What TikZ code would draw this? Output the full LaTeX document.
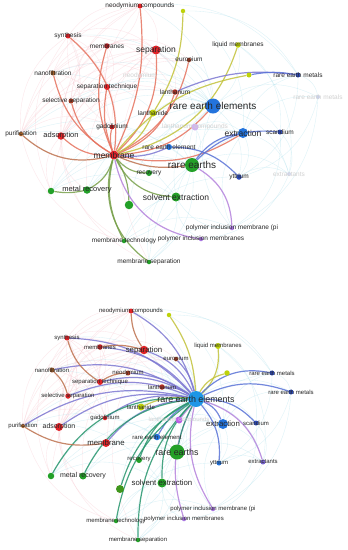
\documentclass[tikz,border=0pt]{standalone}
\usepackage{fontspec}
\setmainfont{Liberation Sans}
\pgfdeclarelayer{bgA}\pgfdeclarelayer{bgB}
\pgfsetlayers{bgA,bgB,main}
\definecolor{cred}{RGB}{225,35,40}
\definecolor{cbrn}{RGB}{165,60,35}
\definecolor{corg}{RGB}{165,95,40}
\definecolor{cgrn}{RGB}{35,160,40}
\definecolor{cblu}{RGB}{35,115,220}
\definecolor{ccyb}{RGB}{30,150,230}
\definecolor{cdbl}{RGB}{45,75,185}
\definecolor{cyel}{RGB}{190,210,10}
\definecolor{cpur}{RGB}{170,120,225}
\definecolor{ered}{RGB}{230,115,95}
\definecolor{ebrn}{RGB}{190,115,80}
\definecolor{egrn}{RGB}{120,160,75}
\definecolor{eblu}{RGB}{90,115,215}
\definecolor{evio}{RGB}{125,120,210}
\definecolor{eyel}{RGB}{195,195,60}
\definecolor{epur}{RGB}{180,130,220}
\definecolor{eteal}{RGB}{40,150,110}
\definecolor{fpink}{RGB}{248,190,200}
\definecolor{fcyan}{RGB}{165,222,235}
\tikzset{
  vn/.style={circle,inner sep=0pt,minimum size=#1},
  lb/.style={font=\fontsize{6.5}{7}\selectfont,text=black!85,inner sep=0pt},
  lbm/.style={font=\fontsize{7.5}{8}\selectfont,text=black!85,inner sep=0pt},
  lbl/.style={font=\fontsize{8.5}{9}\selectfont,text=black!85,inner sep=0pt},
  lbx/.style={font=\fontsize{10}{11}\selectfont,text=black!85,inner sep=0pt},
  lbf/.style={lb,text=black!18},
  blb/.style={font=\fontsize{6}{7}\selectfont,text=black!85,inner sep=0pt},
  blbm/.style={font=\fontsize{7}{8}\selectfont,text=black!85,inner sep=0pt},
  blbl/.style={font=\fontsize{7.8}{9}\selectfont,text=black!85,inner sep=0pt},
  blbx/.style={font=\fontsize{8.9}{10}\selectfont,text=black!85,inner sep=0pt},
  blbf/.style={blb,text=black!18},
  hl/.style={line width=1.2pt,opacity=0.85},
  fe/.style={line width=0.35pt,opacity=0.4},
}
\def\pinkpairs{Syn/Sep,Syn/ST,Syn/Ads,Syn/NC,Mbs/Sep,Mbs/ST,Mbs/Ads,Nano/Sep,Nano/Ads,Nano/Mbs,SS/Sep,SS/Mbs,Pur/Sep,Pur/ST,Ads/Sep,Ads/Mbs,Gd/Sep,NC/Sep,Sep/La,Neo/Sep,Syn/Mem,Nano/Gd,SS/Ads,Pur/Gd,NC/Mbs,Syn/SS,Eu/Sep,Neo/ST,Pur/NC,Pur/Syn,Nano/NC,Ads/NC,Pur/Mbs,SS/NC,Ads/La,Pur/La,Nano/La,Syn/La,Gd/NC,Gd/Syn,Ads/Eu,Pur/Eu,Mbs/Eu,MR/Sep,G1/Sep,G1/Ads,MR/Ads,G1/Syn,MT/Ads,MS/Sep,MT/Pur,MS/Ads}
\def\cyanpairs{NC/REE,Sep/REE,Sep/RES,ST/REE,Eu/REE,La/REE,Ln/REE,LM/REE,REE/REM2,REE/Exs,REE/Yt,REE/Sc,Ext/REM,Ext/REM2,Ext/Exs,Ext/Yt,RES/Exs,RES/REM,RES/REE,RES/MT,RES/MS,SX/Ext,SX/REE,SX/MS,PIM/REE,PIM/Ext,PIMs/SX,G1/RES,G1/REE,MR/REE,MR/RES,Rec/REE,G2/REE,MT/SX,MS/RES,Neo/REE,LC/RES,LC/Ext,Ads/REE,Ads/RES,SS/REE,Pur/REE,REM/REM2,Sc/Exs,Yt/Exs,PIM/SX,NC/REM,Y1/REM,Y1/Ext,LM/Exs,LM/Sc,REM/Yt,REM2/PIM,REM2/Yt,Sc/PIM,Exs/PIMs,MS/PIM,MT/PIM,G1/SX,G1/Ext,MR/Ext,MS/Ext,MT/Yt,Syn/REE,Nano/REE,Nano/RES,Pur/RES,Pur/SX}
\begin{document}
\begin{tikzpicture}[x=1pt,y=-1pt]
\useasboundingbox (0,0) rectangle (348,550);
% ---------------- top panel ----------------
\node[vn=5,fill=cred,label={[lb]center:neodymium compounds}] (tNC) at (140,6) {};
\node[vn=4.5,fill=cyel] (tY1) at (183,11) {};
\node[vn=5,fill=cred,label={[lb]center:synthesis}] (tSyn) at (68,36) {};
\node[vn=5.5,fill=cred!80!black,label={[lb]center:membranes}] (tMbs) at (107,46) {};
\node[vn=9,fill=cred,label={[lbl]center:separation}] (tSep) at (156,50) {};
\node[vn=5.5,fill=cyel,label={[lb]center:liquid membranes}] (tLM) at (238,45) {};
\node[vn=4.5,fill=cbrn,label={[lb]center:europium}] (tEu) at (189,60) {};
\node[vn=5,fill=corg,label={[lb]center:nanofiltration}] (tNano) at (53,73) {};
\node[vn=4,fill=cred!25,label={[lbf]center:neodymium}] (tNeo) at (140,76) {};
\node[vn=6,fill=cred,label={[lb]center:separation technique}] (tST) at (107,87) {};
\node[vn=5.5,fill=cbrn!60!cred,label={[lb]center:lanthanum}] (tLa) at (175,92) {};
\node[vn=5,fill=cyel] (tY2) at (249,75) {};
\node[vn=5,fill=cdbl,label={[lb]center:rare earth metals}] (tREM) at (298,75) {};
\node[vn=4,fill=cdbl!25,label={[lbf]center:rare earth metals}] (tREM2) at (318,97) {};
\node[vn=5,fill=cbrn,label={[lb]center:selective separation}] (tSS) at (71,101) {};
\node[vn=15,fill=cblu,label={[lbx]center:rare earth elements}] (tREE) at (213,106) {};
\node[vn=7,fill=cyel,label={[lb]center:lanthanide}] (tLn) at (153,113) {};
\node[vn=4.5,fill=corg,label={[lb]center:purification}] (tPur) at (21,134) {};
\node[vn=7.5,fill=cred,label={[lbm]center:adsorption}] (tAds) at (61,136) {};
\node[vn=5,fill=cred!85!black,label={[lb]center:gadolinium}] (tGd) at (112,127) {};
\node[vn=7,fill=cpur!55,label={[lbf]center:lanthanum compounds}] (tLC) at (195,127) {};
\node[vn=10,fill=cblu,label={[lbl]center:extraction}] (tExt) at (243,133) {};
\node[vn=5,fill=cdbl,label={[lb]center:scandium}] (tSc) at (280,132) {};
\node[vn=6,fill=cblu,label={[lb]center:rare earth element}] (tRE1) at (169,147) {};
\node[vn=9,fill=cred,label={[lbl]center:membrane}] (tMem) at (114,155) {};
\node[vn=14,fill=cgrn,label={[lbx]center:rare earths}] (tRES) at (192,165) {};
\node[vn=6,fill=cgrn,label={[lb]center:recovery}] (tRec) at (149,173) {};
\node[vn=5.5,fill=cdbl,label={[lb]center:yttrium}] (tYt) at (239,177) {};
\node[vn=4,fill=cdbl!20,label={[lbf]center:extractants}] (tExs) at (289,174) {};
\node[vn=7.5,fill=cgrn,label={[lbm]center:metal recovery}] (tMR) at (87,190) {};
\node[vn=6.5,fill=cgrn] (tG1) at (51,191) {};
\node[vn=9,fill=cgrn,label={[lbl]center:solvent extraction}] (tSX) at (176,197) {};
\node[vn=8.5,fill=cgrn] (tG2) at (129,205) {};
\node[vn=4.5,fill=cpur,label={[lb]center:polymer inclusion membrane (pi}] (tPIM) at (232,228) {};
\node[vn=4.5,fill=cpur,label={[lb]center:polymer inclusion membranes}] (tPIMs) at (201,239) {};
\node[vn=4.5,fill=cgrn,label={[lb]center:membrane technology}] (tMT) at (124,241) {};
\node[vn=4.5,fill=cgrn,label={[lb]center:membrane separation}] (tMS) at (149,262) {};
% ---------------- bottom panel ----------------
\node[vn=5,fill=cred,label={[blb]center:neodymium compounds}] (bNC) at (131,311) {};
\node[vn=4.5,fill=cyel] (bY1) at (169,315) {};
\node[vn=5,fill=cred,label={[blb]center:synthesis}] (bSyn) at (67,338) {};
\node[vn=5.5,fill=cred!85!black,label={[blb]center:membranes}] (bMbs) at (100,347) {};
\node[vn=8.5,fill=cred,label={[blbl]center:separation}] (bSep) at (144,350) {};
\node[vn=4.5,fill=cbrn,label={[blb]center:europium}] (bEu) at (176,359) {};
\node[vn=6,fill=cyel,label={[blb]center:liquid membranes}] (bLM) at (218,346) {};
\node[vn=5,fill=corg,label={[blb]center:nanofiltration}] (bNano) at (52,370) {};
\node[vn=5,fill=cbrn,label={[blb]center:neodymium}] (bNeo) at (128,373) {};
\node[vn=6,fill=cred,label={[blb]center:separation technique}] (bST) at (100,382) {};
\node[vn=5.5,fill=cyel] (bY2) at (227,373) {};
\node[vn=5,fill=cdbl,label={[blb]center:rare earth metals}] (bREM) at (272,373) {};
\node[vn=5.5,fill=cbrn!60!cred,label={[blb]center:lanthanum}] (bLa) at (162,387) {};
\node[vn=5,fill=cdbl,label={[blb]center:rare earth metals}] (bREM2) at (291,392) {};
\node[vn=5.5,fill=cred,label={[blb]center:selective separation}] (bSS) at (68,396) {};
\node[vn=16,fill=ccyb,label={[blbx]center:rare earth elements}] (bREE) at (196,399) {};
\node[vn=7,fill=cyel,label={[blb]center:lanthanide}] (bLn) at (141,407) {};
\node[vn=4.5,fill=cred,label={[blb]center:gadolinium}] (bGd) at (105,418) {};
\node[vn=7,fill=cpur!80!magenta,label={[blbf]center:lanthanum compounds}] (bLC) at (179,420) {};
\node[vn=10,fill=cblu,label={[blbl]center:extraction}] (bExt) at (223,424) {};
\node[vn=5,fill=cdbl,label={[blb]center:scandium}] (bSc) at (256,423) {};
\node[vn=4,fill=corg,label={[blb]center:purification}] (bPur) at (23,426) {};
\node[vn=8,fill=cred,label={[blbm]center:adsorption}] (bAds) at (59,427) {};
\node[vn=6.5,fill=cblu,label={[blb]center:rare earth element}] (bRE1) at (157,437) {};
\node[vn=8,fill=cred,label={[blbl]center:membrane}] (bMem) at (106,443) {};
\node[vn=15,fill=cgrn,label={[blbx]center:rare earths}] (bRES) at (177,452) {};
\node[vn=6,fill=cgrn,label={[blb]center:recovery}] (bRec) at (139,460) {};
\node[vn=5,fill=cpur!60!cdbl,label={[blb]center:extractants}] (bExs) at (263,462) {};
\node[vn=5,fill=cblu,label={[blb]center:yttrium}] (bYt) at (219,463) {};
\node[vn=6.5,fill=cgrn] (bG1) at (51,476) {};
\node[vn=7,fill=cgrn,label={[blbm]center:metal recovery}] (bMR) at (83,476) {};
\node[vn=9,fill=cgrn,label={[blbl]center:solvent extraction}] (bSX) at (162,483) {};
\node[vn=8,fill=cgrn!70!olive] (bG2) at (120,489) {};
\node[vn=4.5,fill=cpur,label={[blb]center:polymer inclusion membrane (pi}] (bPIM) at (213,509) {};
\node[vn=4.5,fill=cpur,label={[blb]center:polymer inclusion membranes}] (bPIMs) at (184,519) {};
\node[vn=4.5,fill=cgrn,label={[blb]center:membrane technology}] (bMT) at (116,521) {};
\node[vn=4.5,fill=cgrn,label={[blb]center:membrane separation}] (bMS) at (138,540) {};
% ---------------- faint web ----------------
\begin{pgfonlayer}{bgA}
\fill[white] (0,0) rectangle (348,550);
\foreach \p in {t,b}{
  \foreach \a/\b in \pinkpairs {\draw[fe,fpink] (\p\a) to[bend left=30] (\p\b);}
  \foreach \a/\b in \cyanpairs {\draw[fe,fcyan] (\p\a) to[bend left=30] (\p\b);}
}
\end{pgfonlayer}
% ---------------- highlighted links ----------------
\begin{pgfonlayer}{bgB}
% top: links of "membrane"
\foreach \t/\b/\c in {tSyn/-28/ered,tMbs/20/ered,tSep/-25/ered,tNC/-15/ered,tNano/22/ered,tST/15/ered,tSS/22/ered,tPur/28/ebrn,tAds/22/ered,tGd/15/ered,tLa/-25/ered,tEu/-25/ered,tLn/-18/eyel,tRec/-25/egrn,tMR/22/egrn,tG2/15/egrn,tMT/-20/egrn,tMS/-35/egrn,tSX/-30/egrn,tRE1/-15/evio,tRES/-15/ebrn,tREE/-22/ered,tExt/-22/ered,tPIMs/-35/epur}
  {\draw[hl,draw=\c] (tMem) to[bend left=\b] (\t);}
\draw[hl,draw=eyel] (tLM) to[bend left=30] (tMem);
\draw[hl,draw=eyel] (tY2) to[bend right=20] (tMem);
\draw[hl,draw=eyel] (tY1) to[bend left=15] (tLn);
\draw[hl,draw=evio] (tLa) to[bend left=15] (tREM);
\draw[hl,draw=eblu] (tY2) to[bend left=10] (tREM);
\draw[hl,draw=eblu] (tRES) to[bend left=22] (tExt);
\draw[hl,draw=eblu] (tRES) to[bend left=25] (tSc);
\draw[hl,draw=eblu] (tRE1) to[bend left=22] (tYt);
\draw[hl,draw=epur] (tRES) to[bend left=28] (tPIM);
\draw[hl,draw=egrn] (tMR) to[bend left=10] (tG1);
% bottom: links of "rare earth elements"
\foreach \t/\b/\c in {bNC/-22/evio,bSep/-22/evio,bMbs/-22/evio,bSyn/-22/evio,bNano/-22/evio,bNeo/-15/evio,bST/-22/evio,bSS/-22/evio,bLa/-15/evio,bEu/-15/evio,bGd/-22/evio,bAds/-22/evio,bPur/-22/evio,bMem/-22/evio,bLn/-15/eyel,bLM/-25/eyel,bY2/22/eyel,bY1/-15/eyel,bREM/28/eblu,bREM2/22/eblu,bExt/22/eblu,bSc/22/eblu,bYt/22/eblu,bRE1/-15/eblu,bExs/28/epur,bLC/0/epur,bPIM/-22/epur,bPIMs/-22/epur,bRES/-8/eteal,bRec/-22/eteal,bSX/-22/eteal,bMR/-28/eteal,bG1/-32/eteal,bG2/-22/eteal,bMT/-22/eteal,bMS/-22/eteal}
  {\draw[hl,draw=\c] (bREE) to[bend left=\b] (\t);}
\draw[hl,draw=ebrn] (bPur) to[bend right=20] (bMem);
\draw[hl,draw=ebrn] (bSep) to[bend left=15] (bNC);
\draw[hl,draw=ebrn] (bMbs) to[bend left=12] (bSep);
\draw[hl,draw=ebrn] (bSyn) to[bend right=20] (bST);
\draw[hl,draw=ebrn] (bNano) to[bend left=15] (bSS);
\draw[hl,draw=ebrn] (bST) to[bend left=15] (bNeo);
\end{pgfonlayer}
\end{tikzpicture}
\end{document}
